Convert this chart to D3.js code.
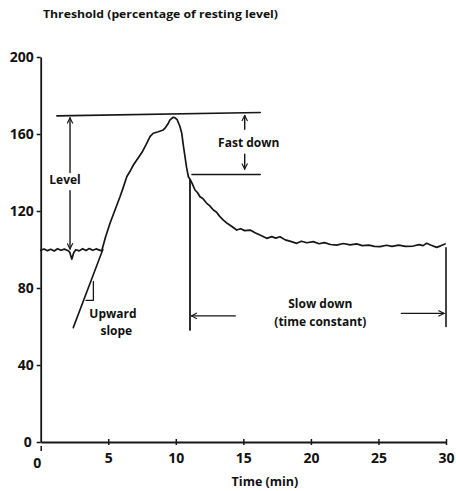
<!DOCTYPE html>
<html><head><meta charset="utf-8">
<script src="https://cdn.jsdelivr.net/npm/d3@7"></script>
<style>
body{margin:0;background:#fff}
svg text{font-family:"Open Sans",sans-serif;fill:#111}
</style></head><body><svg id="c" width="456" height="491"></svg>
<script>
const xTicks=[0,5,10,15,20,25,30];
const yTicks=[0,40,80,120,160,200];
const threshold=[
[0,99.6],[0.25,100.3],[0.5,99.4],[0.75,100.1],[1.0,99.2],[1.25,100.4],[1.5,99.6],[1.75,100.2],[2.0,99.5],[2.15,98.6],[2.3,95.0],[2.45,98.4],[2.6,99.9],[2.85,99.3],[3.1,100.4],[3.35,99.5],[3.6,100.5],[3.85,99.6],[4.1,100.3],[4.35,99.7],[4.52,99.3],
[4.8,106.5],[5.13,113.6],[5.5,120.5],[5.87,127.4],[6.1,132],[6.37,137.8],[6.6,140.5],[6.86,143.9],[7.11,146.5],[7.5,150.5],[7.8,154.5],[8.09,158.6],[8.33,160.4],[8.7,161.2],[9.07,162.1],[9.2,163],[9.45,165.6],[9.57,167.3],[9.81,168.7],[9.95,168.4],[10.11,167.3],[10.3,164],[10.44,160.4],[10.56,154],[10.68,148.2],[10.8,142.5],[10.93,137.8],[11.05,136.5],
[11.2,134.5],[11.42,130.9],[11.6,129.6],[11.79,127.4],[12.0,126.5],[12.29,124],[12.5,122.8],[12.78,120.5],[13.0,119.5],[13.25,117.2],[13.52,115.3],[13.8,113.6],[14.1,112.2],[14.51,110.1],[14.8,110.8],[15.1,109.8],[15.5,110.1],[15.9,108.6],[16.23,107.5],[16.73,105.8],[17.1,106.7],[17.4,105.9],[17.71,106.6],[18.1,105.0],[18.5,104.2],[18.95,103.2],[19.3,104.3],[19.7,103.5],[20.18,104.1],[20.6,103.0],[21.0,103.6],[21.45,102.6],[21.91,102.3],[22.4,103.1],[22.9,102.4],[23.39,102.9],[23.8,102.0],[24.3,102.3],[24.7,101.6],[25.12,101.5],[25.6,102.2],[26.0,101.6],[26.5,102.3],[27.0,101.6],[27.58,101.8],[28.0,102.5],[28.3,102.0],[28.57,103.2],[28.9,102.2],[29.31,101.1],[29.6,101.9],[29.93,102.9]
];
const slopeLine=[[2.41,59.4],[4.6,100]];
const slopeTriangle=[[3.35,73.6],[3.9,73.6],[3.9,83.4]];
const levelTop=[[1.2,169.4],[16.25,171.2]];
const fastDownLine=[[11.2,139],[16.25,139]];
const levelArrowUp=[[2.17,140],[2.17,168.4]];
const levelArrowDown=[[2.17,130.5],[2.17,100.3]];
const fastUp=[[15.1,162.5],[15.1,169.6]];
const fastDown=[[15.1,149.5],[15.1,141.8]];
const leftVertical=[[11.05,136],[11.05,58.2]];
const rightVertical=[[30.0,100.9],[30.0,60]];
const slowLeft=[[14.4,65.5],[11.15,65.5]];
const slowRight=[[26.7,66.8],[29.85,66.8]];
const labels=[
 {t:"Level",x:1.8,y:136,s:12},
 {t:"Fast down",x:15.4,y:155.3,s:12},
 {t:"Upward",x:5.35,y:66.4,s:12},
 {t:"slope",x:5.6,y:57.7,s:12},
 {t:"Slow down",x:20.7,y:71.8,s:12},
 {t:"(time constant)",x:20.7,y:62.5,s:12}
];

const svg=d3.select("#c");
const x=d3.scaleLinear().domain([0,30]).range([40.7,446]);
const y=d3.scaleLinear().domain([0,200]).range([442,57]);
const ink="#161616";

svg.append("defs").append("marker").attr("id","ah").attr("viewBox","0 0 10 10")
 .attr("refX",9).attr("refY",5).attr("markerWidth",7).attr("markerHeight",7)
 .attr("markerUnits","userSpaceOnUse").attr("orient","auto")
 .append("path").attr("d","M1,1 L9,5 L1,9").attr("fill","none").attr("stroke",ink).attr("stroke-width",1.6);

// axes
const ya=svg.append("g").attr("transform",`translate(${x(0)},0)`)
 .call(d3.axisLeft(y).tickValues(yTicks).tickSize(4).tickSizeOuter(0).tickPadding(3));
const xa=svg.append("g").attr("transform",`translate(0,${y(0)})`)
 .call(d3.axisBottom(x).tickValues(xTicks).tickSize(3).tickSizeOuter(0).tickPadding(8));
[ya,xa].forEach(g=>{
 g.select(".domain").attr("stroke",ink).attr("stroke-width",1.8);
 g.selectAll(".tick line").attr("stroke",ink).attr("stroke-width",1.5);
 g.selectAll(".tick text").attr("font-size",14).attr("font-weight",700).attr("fill",ink)
  .style("font-family","'Open Sans',sans-serif");
});
xa.selectAll(".tick line").attr("y1",d=>d===0?4:-3).attr("y2",d=>d===0?9:3);
xa.selectAll(".tick text").filter(d=>d===0).attr("x",-4).attr("y",16);
ya.selectAll(".tick text").filter(d=>d===0).attr("x",-9);

const line=d3.line().x(d=>x(d[0])).y(d=>y(d[1]));
function seg(data,w,arrow){
 const p=svg.append("path").datum(data).attr("d",line).attr("fill","none")
  .attr("stroke",ink).attr("stroke-width",w).attr("stroke-linejoin","round").attr("stroke-linecap","round");
 if(arrow)p.attr("marker-end","url(#ah)");
 return p;
}
seg(threshold,1.7);
seg(slopeLine,1.6);
seg(slopeTriangle,1.3);
seg(levelTop,1.6);
seg(fastDownLine,1.6);
seg(levelArrowUp,1.4,true);
seg(levelArrowDown,1.4,true);
seg(fastUp,1.4,true);
seg(fastDown,1.4,true);
seg(leftVertical,1.8);
seg(rightVertical,1.6);
seg(slowLeft,1.4,true);
seg(slowRight,1.4,true);

svg.selectAll("text.lab").data(labels).enter().append("text").attr("class","lab")
 .attr("x",d=>x(d.x)).attr("y",d=>y(d.y)).attr("dy","0.35em").attr("text-anchor","middle")
 .attr("font-size",d=>d.s).attr("font-weight",700).text(d=>d.t);

svg.append("text").attr("x",43).attr("y",18).attr("font-size",11).attr("font-weight",700)
 .attr("textLength",235).attr("lengthAdjust","spacingAndGlyphs")
 .text("Threshold (percentage of resting level)");
svg.append("text").attr("x",x(16.6)).attr("y",486).attr("text-anchor","middle")
 .attr("font-size",12.5).attr("font-weight",700).text("Time (min)");
</script></body></html>
